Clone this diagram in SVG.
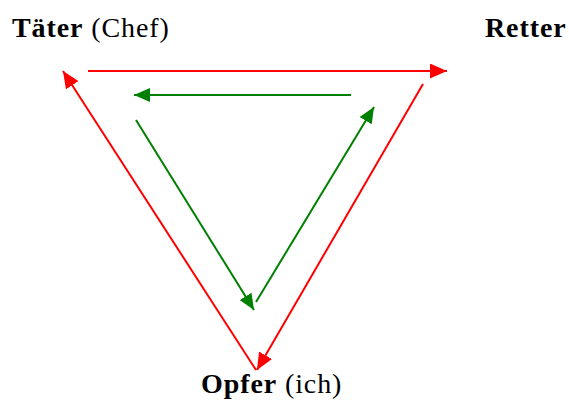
<svg xmlns="http://www.w3.org/2000/svg" width="569" height="404" viewBox="0 0 569 404">
<style>
.lbl{font-family:"Liberation Serif","Times New Roman",serif;font-size:28px;fill:#000;letter-spacing:0.9px}
.b{font-weight:bold}
.red{stroke:#ff0000;stroke-width:2;fill:none}
.green{stroke:#008000;stroke-width:2;fill:none}
</style>
<defs>
<marker id="ar" viewBox="0 0 17 15" refX="17" refY="7.5" markerWidth="17" markerHeight="15" markerUnits="userSpaceOnUse" orient="auto">
<path d="M0,0 L17,7.5 L0,15 Z" fill="#ff0000"/>
</marker>
<marker id="ag" viewBox="0 0 16 14" refX="16" refY="7" markerWidth="16" markerHeight="14" markerUnits="userSpaceOnUse" orient="auto">
<path d="M0,0 L16,7 L0,14 Z" fill="#008000"/>
</marker>
</defs>
<rect width="569" height="404" fill="#ffffff"/>
<g id="taeter"><text class="lbl" x="12" y="37"><tspan class="b">Täter</tspan> (Chef)</text></g>
<g id="retter"><text class="lbl b" x="485" y="37">Retter</text></g>
<g id="opfer"><text class="lbl" x="201" y="393"><tspan class="b">Opfer</tspan> (ich)</text></g>
<g id="connectors">
<line class="red" x1="88" y1="71" x2="447" y2="71" marker-end="url(#ar)"/>
<line class="red" x1="423" y1="84" x2="257" y2="370" marker-end="url(#ar)"/>
<line class="red" x1="256" y1="370" x2="63" y2="71" marker-end="url(#ar)"/>
<line class="green" x1="351" y1="95" x2="134" y2="95" marker-end="url(#ag)"/>
<line class="green" x1="136" y1="120" x2="254" y2="310" marker-end="url(#ag)"/>
<line class="green" x1="256" y1="302" x2="374" y2="107" marker-end="url(#ag)"/>
</g>
</svg>
